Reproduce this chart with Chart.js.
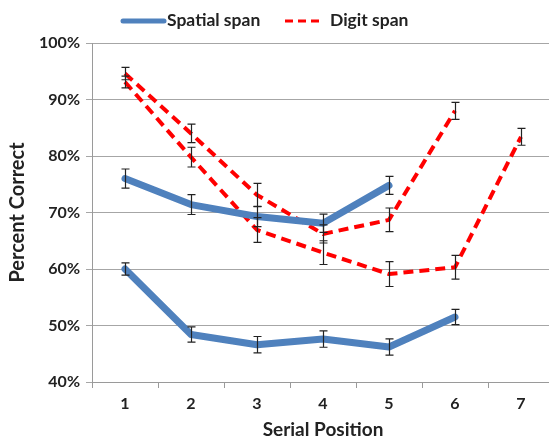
<!DOCTYPE html>
<html>
<head>
<meta charset="utf-8">
<script src="https://cdn.jsdelivr.net/npm/chart.js@4"></script>
<style>
html,body{margin:0;padding:0;background:#fff;overflow:hidden;}
#wrap{width:554px;height:443px;position:relative;}
</style>
</head>
<body>
<div id="wrap"><canvas id="c" width="554" height="443"></canvas></div>
<script>
const categories = ['1','2','3','4','5','6','7'];
// Spatial span (two curves)
const spatialA = [76.0, 71.4, 69.3, 68.1, 74.8, null, null];
const spatialAErr = [1.7, 1.75, 1.8, 1.6, 1.6, null, null];
const spatialB = [60.0, 48.4, 46.6, 47.6, 46.2, 51.5, null];
const spatialBErr = [1.1, 1.35, 1.45, 1.45, 1.45, 1.35, null];
// Digit span (two curves)
const digitA = [94.6, 84.0, 73.1, 66.2, 68.7, 88.0, null];
const digitAErr = [1.1, 1.65, 2.05, 1.6, 2.1, 1.5, null];
const digitB = [93.1, 79.8, 66.9, 62.9, 59.1, 60.3, 83.4];
const digitBErr = [1.05, 1.75, 2.2, 2.1, 2.2, 2.1, 1.5];
const yTicks = [40, 50, 60, 70, 80, 90, 100];
const legendLabels = ['Spatial span', 'Digit span'];

const BLUE = '#4f81bd';
const RED = '#ff0000';
const FONT = 'Lato, "Open Sans", sans-serif';

const errorBars = {
  id: 'errorBars',
  afterDatasetsDraw(chart) {
    const ctx = chart.ctx;
    const xs = chart.scales.x, ys = chart.scales.y;
    ctx.save();
    ctx.strokeStyle = '#222';
    ctx.lineWidth = 1.2;
    ctx.setLineDash([]);
    chart.data.datasets.forEach(ds => {
      ds.data.forEach((v, i) => {
        const e = ds.err[i];
        if (v == null || e == null) return;
        const x = Math.round(xs.getPixelForValue(i)) + 0.5;
        const y1 = ys.getPixelForValue(v + e), y2 = ys.getPixelForValue(v - e);
        ctx.beginPath();
        ctx.moveTo(x, y1); ctx.lineTo(x, y2);
        ctx.moveTo(x - 4, y1); ctx.lineTo(x + 4, y1);
        ctx.moveTo(x - 4, y2); ctx.lineTo(x + 4, y2);
        ctx.stroke();
      });
    });
    ctx.restore();
  }
};

const customLegend = {
  id: 'customLegend',
  afterDraw(chart) {
    const ctx = chart.ctx;
    ctx.save();
    ctx.font = 'bold 17.5px ' + FONT;
    ctx.fillStyle = '#222';
    ctx.textBaseline = 'middle';
    // Spatial span
    ctx.strokeStyle = BLUE; ctx.lineWidth = 5; ctx.lineCap = 'round'; ctx.setLineDash([]);
    ctx.beginPath(); ctx.moveTo(123, 21); ctx.lineTo(164, 21); ctx.stroke();
    ctx.fillText(legendLabels[0], 167, 20);
    // Digit span
    ctx.strokeStyle = RED; ctx.lineWidth = 3; ctx.lineCap = 'butt'; ctx.setLineDash([8, 5]);
    ctx.beginPath(); ctx.moveTo(285, 21); ctx.lineTo(323, 21); ctx.stroke();
    ctx.setLineDash([]);
    ctx.fillText(legendLabels[1], 330, 20);
    ctx.restore();
  }
};

function mk(label, data, err, color, width, dash) {
  return {
    label, data, err,
    borderColor: color, backgroundColor: color,
    borderWidth: width, borderDash: dash,
    borderCapStyle: dash.length ? 'butt' : 'round',
    borderJoinStyle: 'round',
    pointRadius: 0, pointHoverRadius: 0,
    fill: false, tension: 0, spanGaps: false
  };
}

new Chart(document.getElementById('c'), {
  type: 'line',
  data: {
    labels: categories,
    datasets: [
      mk(legendLabels[0], spatialA, spatialAErr, BLUE, 7, []),
      mk(legendLabels[0], spatialB, spatialBErr, BLUE, 7, []),
      mk(legendLabels[1], digitA, digitAErr, RED, 4, [10, 6]),
      mk(legendLabels[1], digitB, digitBErr, RED, 4, [10, 6])
    ]
  },
  options: {
    responsive: false,
    animation: false,
    events: [],
    layout: { padding: { top: 43, right: 0, bottom: 0, left: 0 } },
    plugins: { legend: { display: false }, tooltip: { enabled: false } },
    scales: {
      x: {
        type: 'category',
        offset: true,
        grid: { display: true, drawOnChartArea: false, drawTicks: true, tickLength: 6, color: '#9a9a9a', offset: true },
        border: { color: '#9a9a9a', width: 1 },
        ticks: { color: '#222', font: { family: FONT, size: 16, weight: 'bold' }, padding: 6, maxRotation: 0 },
        title: { display: true, text: 'Serial Position', color: '#222', font: { family: FONT, size: 19, weight: 'bold' }, padding: { top: 4, bottom: 2 } },
        afterFit(s) { s.height = 61; }
      },
      y: {
        min: 40, max: 100,
        afterBuildTicks(s) { s.ticks = yTicks.map(v => ({ value: v })); },
        grid: { color: '#a6a6a6', tickLength: 6, lineWidth: 1 },
        border: { color: '#9a9a9a', width: 1 },
        ticks: { color: '#222', font: { family: FONT, size: 16, weight: 'bold' }, padding: 6, callback: v => v + '%' },
        title: { display: true, text: 'Percent Correct', color: '#222', font: { family: FONT, size: 20, weight: 'bold' }, padding: { top: 6, bottom: 4 } },
        afterFit(s) { s.width = 92; }
      }
    }
  },
  plugins: [errorBars, customLegend]
});
</script>
</body>
</html>
